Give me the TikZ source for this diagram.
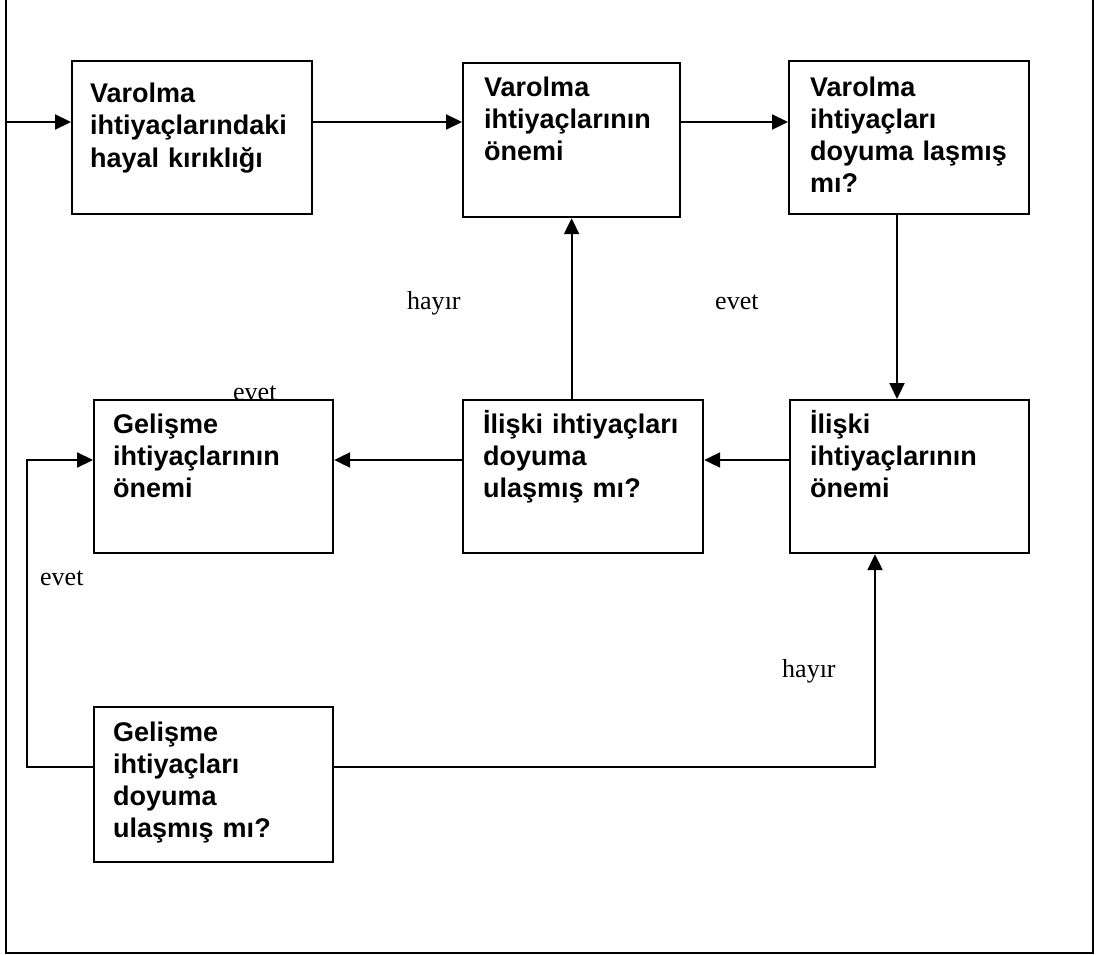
\documentclass[tikz,border=0pt]{standalone}
\usepackage{fontspec}
\setmainfont{Liberation Serif}
\setsansfont{Liberation Sans}
\usetikzlibrary{arrows.meta,positioning}

\tikzset{
  kutu/.style={draw, line width=2.2pt, minimum width=240pt, minimum height=153pt, anchor=north west, inner sep=0pt},
  metin/.style={font=\sffamily\bfseries\fontsize{27}{32}\selectfont, text width=225pt, align=left, anchor=base west, inner sep=0pt},
  etiket/.style={font=\fontsize{26}{30}\selectfont, anchor=base west, inner sep=0pt},
  ok/.style={line width=2.2pt, -{Triangle[length=16pt,width=15pt]}}
}

\begin{document}
\begin{tikzpicture}[x=1pt,y=-1pt]
  \useasboundingbox (0,0) rectangle (1097,955);

  % cerceve
  \draw[line width=2.2pt] (6,0) -- (6,953) -- (1093,953) -- (1093,0);

  % kutular
  \node[kutu] (b1) at (71,60) {};
  \node[kutu, minimum width=217pt, minimum height=154pt] (b2) at (462,62) {};
  \node[kutu] (b3) at (788,60) {};
  \node[kutu, minimum width=239pt] (b4) at (93,399) {};
  \node[kutu] (b5) at (462,399) {};
  \node[kutu, minimum width=239pt] (b6) at (789,399) {};
  \node[kutu, minimum width=239pt, minimum height=155pt] (b7) at (93,706) {};

  % kutu yazilari
  \node[metin] (m1) at ([shift={(19pt,-43pt)}]b1.north west) {Varolma\\ihtiyaçlarındaki\\hayal kırıklığı};
  \node[metin] (m2) at ([shift={(22pt,-35pt)}]b2.north west) {Varolma\\ihtiyaçlarının\\önemi};
  \node[metin] (m3) at ([shift={(22pt,-37pt)}]b3.north west) {Varolma\\ihtiyaçları\\doyuma laşmış\\mı?};
  \node[metin] (m4) at ([shift={(20pt,-34pt)}]b4.north west) {Gelişme\\ihtiyaçlarının\\önemi};
  \node[metin] (m5) at ([shift={(21pt,-34pt)}]b5.north west) {İlişki ihtiyaçları\\doyuma\\ulaşmış mı?};
  \node[metin] (m6) at ([shift={(21pt,-34pt)}]b6.north west) {İlişki\\ihtiyaçlarının\\önemi};
  \node[metin] (m7) at ([shift={(20pt,-35pt)}]b7.north west) {Gelişme\\ihtiyaçları\\doyuma\\ulaşmış mı?};

  % baglantilar
  \coordinate (giris) at (6,122);
  \coordinate (inis) at (897,0);
  \coordinate (orta) at (0,460);
  \coordinate (sol) at (27,460);
  \coordinate (sag) at (875,767);
  \draw[ok] (giris) -- (b1.west |- giris);
  \draw[ok] (b1.east |- giris) -- (b2.west |- giris);
  \draw[ok] (b2.east |- giris) -- (b3.west |- giris);
  \draw[ok] (b3.south -| inis) -- (b6.north -| inis);
  \draw[ok] (b6.west |- orta) -- (b5.east |- orta);
  \draw[ok] (b5.west |- orta) -- (b4.east |- orta);
  \draw[ok] (b5.north -| b2.south) -- (b2.south);
  \draw[ok] (b7.west |- sag) -| (sol) -- (b4.west |- sol);
  \draw[ok] (b7.east |- sag) -| (b6.south -| sag);

  % etiketler
  \node[etiket] (e1) at (407,309) {hayır};
  \node[etiket] (e2) at (715,309) {evet};
  \node[etiket] (e3) at (233,400) {evet};
  \node[etiket] (e4) at (40,585) {evet};
  \node[etiket] (e5) at (782,677) {hayır};
\end{tikzpicture}
\end{document}
